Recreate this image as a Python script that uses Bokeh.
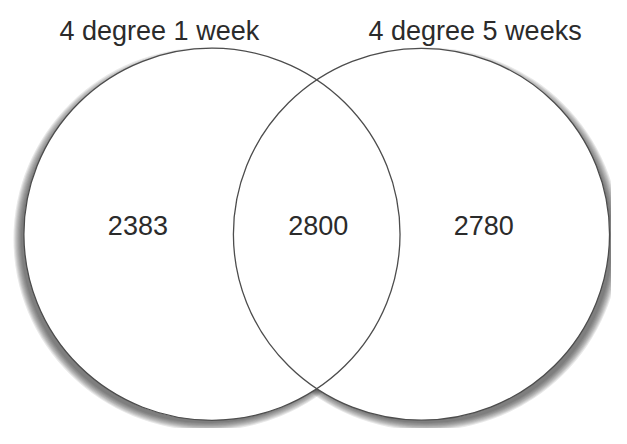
from bokeh.plotting import figure
from bokeh.models import Range1d, ColumnDataSource
from bokeh.core.properties import value
from bokeh.embed import file_html
from bokeh.resources import INLINE

# ---- data ----
set_labels = ["4 degree 1 week", "4 degree 5 weeks"]
region_counts = [2383, 2800, 2780]          # only set 1, both, only set 2

# ---- layout (reference pixel space, y grows downward) ----
circle_cx = [217, 432]
circle_cy = 242.5
radius = 193
label_x = [163, 487]
label_baseline = 32
count_x = [141, 326, 496]
count_baseline = 233

FONT = value("Liberation Sans")

p = figure(width=611, height=428, output_backend="svg", toolbar_location=None,
           x_range=Range1d(0, 627), y_range=Range1d(444, 0),
           min_border=0, min_border_left=0, min_border_right=0,
           min_border_top=0, min_border_bottom=0)
p.axis.visible = False
p.grid.visible = False
p.outline_line_color = None
p.background_fill_color = "white"
p.border_fill_color = "white"

# soft drop shadows (outer side, slightly downward)
side = [-1, 1]
n_layers = 8
for k in range(n_layers):
    grow = -2 + k * 1.1
    xs = [cx + s * 5 for cx, s in zip(circle_cx, side)]
    ys = [circle_cy + 5, circle_cy + 5]
    d = 2 * (radius + grow)
    p.ellipse(x=xs, y=ys, width=[d, d], height=[d, d],
              fill_color="#2a2a2a", fill_alpha=0.11, line_color=None)

# white discs
p.ellipse(x=circle_cx, y=[circle_cy] * 2, width=[2 * radius] * 2,
          height=[2 * radius] * 2, fill_color="white", line_color=None)
# outlines
p.ellipse(x=circle_cx, y=[circle_cy] * 2, width=[2 * radius] * 2,
          height=[2 * radius] * 2, fill_color=None, line_color="#4d4d4d",
          line_width=1.3)

# set titles
src_t = ColumnDataSource(dict(x=label_x, y=[label_baseline] * 2, t=set_labels))
p.text(x="x", y="y", text="t", source=src_t, text_font=FONT,
       text_font_size="27px", text_align="center", text_baseline="alphabetic",
       text_color="#2b2b2b")

# region counts
src_c = ColumnDataSource(dict(x=count_x, y=[count_baseline] * 3,
                              t=[str(v) for v in region_counts]))
p.text(x="x", y="y", text="t", source=src_c, text_font=FONT,
       text_font_size="27px", text_align="center", text_baseline="alphabetic",
       text_color="#2b2b2b")

open("out.html", "w").write(file_html(p, INLINE))
